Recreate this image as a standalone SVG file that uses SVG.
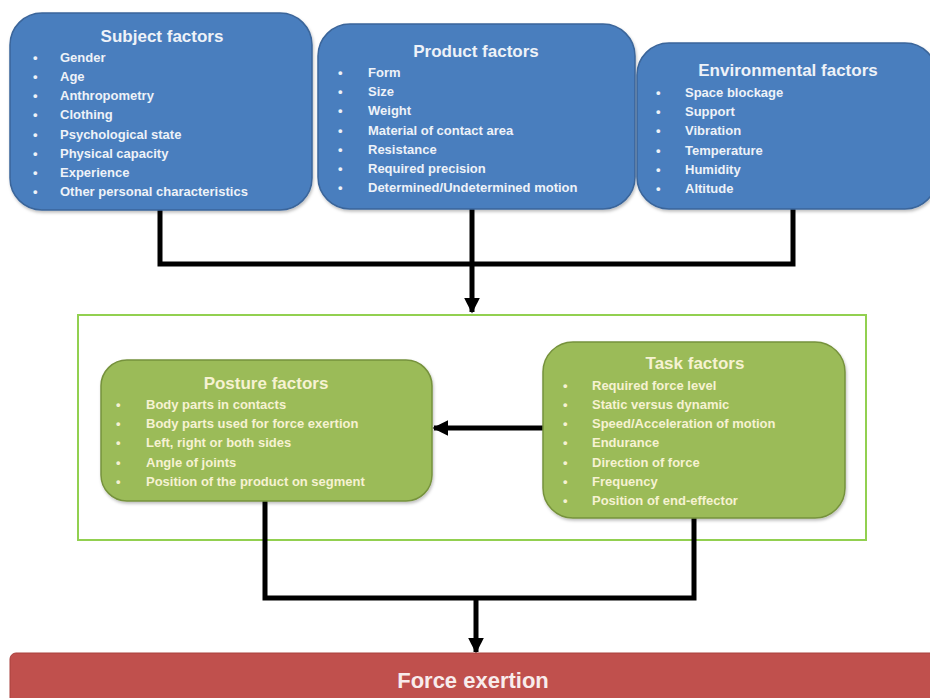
<svg xmlns="http://www.w3.org/2000/svg" width="930" height="698" viewBox="0 0 930 698">
  <style>
    .blue { fill: #4A7EBE; stroke: #3A659A; stroke-width: 1.5; }
    .green { fill: #9BBB59; stroke: #76923C; stroke-width: 1.5; }
    .red { fill: #C0504D; stroke: #A8403D; stroke-width: 1; }
    .title { font-family: "Liberation Sans", Arial, sans-serif; font-weight: bold; font-size: 17px; text-anchor: middle; }
    .item { font-family: "Liberation Sans", Arial, sans-serif; font-weight: bold; font-size: 13px; }
    .bt { fill: #EEF2F8; }
    .gt { fill: #F6F2D2; }
    .wire { fill: none; stroke: #000; stroke-width: 5; stroke-linejoin: miter; }
    .frame { fill: none; stroke: #92D050; stroke-width: 2; }
  </style>
  <defs>
    <marker id="arrow" viewBox="0 0 10 10" refX="9" refY="5" markerWidth="3.2" markerHeight="3.2" markerUnits="strokeWidth" orient="auto">
      <path d="M0,0 L10,5 L0,10 Z" fill="#000"/>
    </marker>
    <filter id="shadow" x="-5%" y="-5%" width="110%" height="115%">
      <feDropShadow dx="1" dy="2" stdDeviation="1.5" flood-color="#000" flood-opacity="0.25"/>
    </filter>
  </defs>

  <rect width="930" height="698" fill="#FFFFFF"/>

  <!-- container around posture/task -->
  <rect class="frame" x="78" y="315" width="788" height="225"/>

  <!-- connectors -->
  <g id="connectors">
    <path class="wire" d="M160,210 V264 H793 V208"/>
    <path class="wire" d="M472,208 V312" marker-end="url(#arrow)"/>
    <path class="wire" d="M543,428 H434" marker-end="url(#arrow)"/>
    <path class="wire" d="M265,501 V598 H694 V518"/>
    <path class="wire" d="M476,598 V652" marker-end="url(#arrow)"/>
  </g>

  <g id="subject-factors">
    <rect class="blue" x="10" y="13" width="302" height="197" rx="32" filter="url(#shadow)"/>
    <text class="title bt" x="162" y="42">Subject factors</text>
    <g class="item bt">
      <text x="33" y="62">•</text><text x="60" y="62">Gender</text>
      <text x="33" y="81">•</text><text x="60" y="81">Age</text>
      <text x="33" y="100">•</text><text x="60" y="100">Anthropometry</text>
      <text x="33" y="119">•</text><text x="60" y="119">Clothing</text>
      <text x="33" y="139">•</text><text x="60" y="139">Psychological state</text>
      <text x="33" y="158">•</text><text x="60" y="158">Physical capacity</text>
      <text x="33" y="177">•</text><text x="60" y="177">Experience</text>
      <text x="33" y="196">•</text><text x="60" y="196">Other personal characteristics</text>
    </g>
  </g>

  <g id="product-factors">
    <rect class="blue" x="318" y="24" width="317" height="185" rx="32" filter="url(#shadow)"/>
    <text class="title bt" x="476" y="57">Product factors</text>
    <g class="item bt">
      <text x="338" y="77">•</text><text x="368" y="77">Form</text>
      <text x="338" y="96">•</text><text x="368" y="96">Size</text>
      <text x="338" y="115">•</text><text x="368" y="115">Weight</text>
      <text x="338" y="135">•</text><text x="368" y="135">Material of contact area</text>
      <text x="338" y="154">•</text><text x="368" y="154">Resistance</text>
      <text x="338" y="173">•</text><text x="368" y="173">Required precision</text>
      <text x="338" y="192">•</text><text x="368" y="192">Determined/Undetermined motion</text>
    </g>
  </g>

  <g id="environmental-factors">
    <rect class="blue" x="637" y="43" width="300" height="166" rx="32" filter="url(#shadow)"/>
    <text class="title bt" x="788" y="76">Environmental factors</text>
    <g class="item bt">
      <text x="656" y="97">•</text><text x="685" y="97">Space blockage</text>
      <text x="656" y="116">•</text><text x="685" y="116">Support</text>
      <text x="656" y="135">•</text><text x="685" y="135">Vibration</text>
      <text x="656" y="155">•</text><text x="685" y="155">Temperature</text>
      <text x="656" y="174">•</text><text x="685" y="174">Humidity</text>
      <text x="656" y="193">•</text><text x="685" y="193">Altitude</text>
    </g>
  </g>

  <g id="posture-factors">
    <rect class="green" x="101" y="360" width="331" height="141" rx="26" filter="url(#shadow)"/>
    <text class="title gt" x="266" y="389">Posture factors</text>
    <g class="item gt">
      <text x="116" y="409">•</text><text x="146" y="409">Body parts in contacts</text>
      <text x="116" y="428">•</text><text x="146" y="428">Body parts used for force exertion</text>
      <text x="116" y="447">•</text><text x="146" y="447">Left, right or both sides</text>
      <text x="116" y="467">•</text><text x="146" y="467">Angle of joints</text>
      <text x="116" y="486">•</text><text x="146" y="486">Position of the product on segment</text>
    </g>
  </g>

  <g id="task-factors">
    <rect class="green" x="543" y="342" width="302" height="176" rx="30" filter="url(#shadow)"/>
    <text class="title gt" x="695" y="369">Task factors</text>
    <g class="item gt">
      <text x="563" y="390">•</text><text x="592" y="390">Required force level</text>
      <text x="563" y="409">•</text><text x="592" y="409">Static versus dynamic</text>
      <text x="563" y="428">•</text><text x="592" y="428">Speed/Acceleration of motion</text>
      <text x="563" y="447">•</text><text x="592" y="447">Endurance</text>
      <text x="563" y="467">•</text><text x="592" y="467">Direction of force</text>
      <text x="563" y="486">•</text><text x="592" y="486">Frequency</text>
      <text x="563" y="505">•</text><text x="592" y="505">Position of end-effector</text>
    </g>
  </g>

  <g id="force-exertion">
    <rect class="red" x="10" y="653" width="930" height="60" rx="6"/>
    <text x="473" y="688" font-family="'Liberation Sans', Arial, sans-serif" font-weight="bold" font-size="22" fill="#F8ECEC" text-anchor="middle">Force exertion</text>
  </g>
</svg>
